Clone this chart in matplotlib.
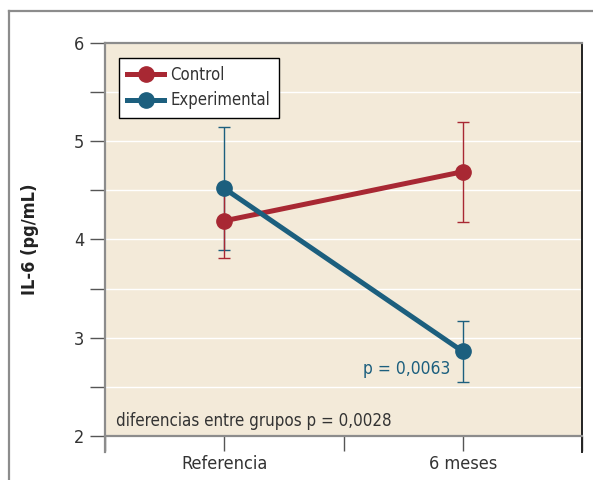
import matplotlib
matplotlib.use("Agg")
import matplotlib.pyplot as plt
from matplotlib.lines import Line2D

plt.rcParams['font.family'] = ['DejaVu Sans']
plt.rcParams['font.stretch'] = 'condensed'

C_CTRL = "#A82833"
C_EXP = "#1C5F7E"
BG = "#F3EAD9"
GRAY = "#8C8C8C"

# ---- data ----------------------------------------------------------------
x_pos = [1, 3]
x_labels = ["Referencia", "6 meses"]
control = [4.19, 4.69]
control_err = [0.38, 0.51]
experimental = [4.52, 2.86]
experimental_err = [0.63, 0.31]

fig = plt.figure(figsize=(5.93, 4.8), dpi=100)
ax = fig.add_axes([0.1771, 0.0917, 0.8044, 0.8187])
ax.set_facecolor(BG)

# outer frame lines (top and left)
fig.add_artist(Line2D([0.0152, 1.0], [0.977, 0.977], color=GRAY, lw=1.6,
                      transform=fig.transFigure))
fig.add_artist(Line2D([0.0152, 0.0152], [0.0, 0.977], color=GRAY, lw=1.6,
                      transform=fig.transFigure))

ax.set_xlim(0, 4)
ax.set_ylim(2, 6)
for y in [2.5, 3, 3.5, 4, 4.5, 5, 5.5]:
    ax.axhline(y, color="white", lw=1.0, zorder=0.5)

ax.errorbar(x_pos, experimental, yerr=experimental_err, fmt="none",
            ecolor=C_EXP, elinewidth=1.0, capsize=4, capthick=1.0, zorder=2)
ax.errorbar(x_pos, control, yerr=control_err, fmt="none",
            ecolor=C_CTRL, elinewidth=1.0, capsize=4, capthick=1.0, zorder=2.1)
ax.plot(x_pos, control, "-o", color=C_CTRL, lw=3.6, ms=11, zorder=3,
        label="Control")
ax.plot(x_pos, experimental, "-o", color=C_EXP, lw=3.6, ms=11, zorder=4,
        label="Experimental")

leg = ax.legend(loc="upper left", bbox_to_anchor=(0.029, 0.963), fancybox=False,
                framealpha=1, edgecolor="black", fontsize=12,
                handlelength=2.2, borderpad=0.5, labelspacing=0.45,
                handletextpad=0.4, borderaxespad=0)
leg.get_frame().set_linewidth(1.0)
for t in leg.get_texts():
    t.set_color("#333333")

ax.text(3 - 0.1, 2.68, "p = 0,0063", color=C_EXP, fontsize=12.5,
        ha="right", va="center")
ax.text(0.09, 2.15, "diferencias entre grupos p = 0,0028", color="#333333",
        fontsize=12.2, ha="left", va="center")

ax.set_yticks([2, 3, 4, 5, 6])
ax.set_yticks([2.5, 3.5, 4.5, 5.5], minor=True)
ax.set_xticks([0, 1, 2, 3, 4])
ax.set_xticklabels(["", x_labels[0], "", x_labels[1], ""])
ax.tick_params(axis="both", which="both", direction="out", length=11,
               width=1.0, colors="#555555", labelcolor="#333333",
               labelsize=13)
ax.tick_params(axis="y", pad=4)
ax.tick_params(axis="x", pad=3)
ax.set_ylabel("IL-6 (pg/mL)", fontsize=13, fontweight="bold",
              color="#222222")
ax.yaxis.set_label_coords(-0.138, 0.5)

for side in ["top", "left", "bottom"]:
    ax.spines[side].set_color(GRAY)
    ax.spines[side].set_linewidth(1.6)
ax.spines["right"].set_color("#222222")
ax.spines["right"].set_linewidth(1.4)
ax.spines["right"].set_bounds(1.84, 6)
ax.spines["left"].set_bounds(1.84, 6)

fig.savefig("out.png", dpi=100)
